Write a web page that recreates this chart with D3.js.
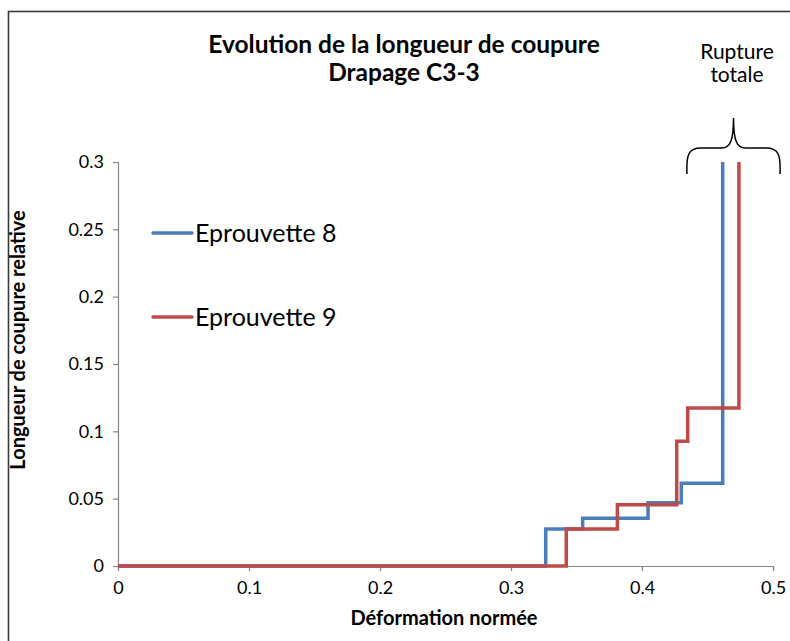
<!DOCTYPE html>
<html><head><meta charset="utf-8">
<script src="https://cdn.jsdelivr.net/npm/d3@7"></script>
<style>
html,body{margin:0;padding:0;background:#fff;}
text{font-family:Lato, "Open Sans", sans-serif;fill:#000;}
</style></head>
<body>
<svg id="c" width="790" height="641"></svg>
<script>
const seriesNames = ["Eprouvette 8", "Eprouvette 9"];
const seriesColors = ["#4a7ebb", "#be4b48"];
const blueX = [0, 0.3265, 0.3547, 0.4046, 0.4300, 0.4616];
const blueY = [0, 0.0275, 0.0354, 0.0470, 0.0614, 0.3];
const redX  = [0, 0.3422, 0.3812, 0.4265, 0.4349, 0.4740];
const redY  = [0, 0.0275, 0.0455, 0.0926, 0.1173, 0.3];
const xTicks = [0, 0.1, 0.2, 0.3, 0.4, 0.5];
const yTicks = [0, 0.05, 0.1, 0.15, 0.2, 0.25, 0.3];
const titleLines = ["Evolution de la longueur de coupure", "Drapage C3-3"];
const xLabel = "Déformation normée";
const yLabel = "Longueur de coupure relative";
const noteLines = ["Rupture", "totale"];

const FONT = "Lato, 'Open Sans', sans-serif";
const svg = d3.select("#c");
svg.append("rect").attr("x", 8.5).attr("y", 11.5).attr("width", 800).attr("height", 700)
  .attr("fill", "#fff").attr("stroke", "#3a3a3a").attr("stroke-width", 1.6);

const x = d3.scaleLinear().domain([0, 0.5]).range([118, 773]);
const y = d3.scaleLinear().domain([0, 0.3]).range([566, 162]);

const fmt = d => String(+d.toFixed(2));
const xAxis = d3.axisBottom(x).tickValues(xTicks).tickFormat(fmt).tickSizeOuter(0).tickSize(5).tickPadding(10);
const yAxis = d3.axisLeft(y).tickValues(yTicks).tickFormat(fmt).tickSizeOuter(0).tickSize(5).tickPadding(9);
const gx = svg.append("g").attr("transform", `translate(0,${y(0)})`).call(xAxis);
const gy = svg.append("g").attr("transform", `translate(${x(0)},0)`).call(yAxis);
[gx, gy].forEach(g => {
  g.attr("font-size", null).attr("font-family", null);
  g.select(".domain").attr("stroke", "#868686").attr("stroke-width", 1.2);
  g.selectAll(".tick line").attr("stroke", "#868686").attr("stroke-width", 1.2);
  g.selectAll(".tick text").attr("fill", "#000")
    .style("font-size", "18px").style("font-family", FONT);
});

const line = d3.line().x(d => x(d[0])).y(d => y(d[1])).curve(d3.curveStepAfter);
const data = [d3.zip(blueX, blueY), d3.zip(redX, redY)];
data.forEach((pts, i) => {
  svg.append("path").datum(pts).attr("d", line).attr("fill", "none")
    .attr("stroke", seriesColors[i]).attr("stroke-width", 3.5);
});

const legY = [233, 317];
seriesNames.forEach((n, i) => {
  svg.append("line").attr("x1", 153).attr("x2", 192).attr("y1", legY[i]).attr("y2", legY[i])
    .attr("stroke", seriesColors[i]).attr("stroke-width", 3.5).attr("stroke-linecap", "round");
  svg.append("text").attr("x", 195).attr("y", legY[i] + 9).style("font-size", "25px").text(n);
});

titleLines.forEach((t, i) => {
  svg.append("text").attr("x", 404).attr("y", 53 + i * 28).attr("text-anchor", "middle")
    .style("font-size", "24.5px").attr("font-weight", "bold").text(t);
});

svg.append("text").attr("x", 444).attr("y", 625).attr("text-anchor", "middle")
  .style("font-size", "20px").attr("font-weight", "bold").text(xLabel);
svg.append("text").attr("transform", "translate(25,340) rotate(-90)").attr("text-anchor", "middle")
  .style("font-size", "20px").attr("font-weight", "bold").text(yLabel);

noteLines.forEach((t, i) => {
  svg.append("text").attr("x", 737).attr("y", 59 + i * 23).attr("text-anchor", "middle")
    .style("font-size", "21px").text(t);
});
const bx0 = 687, bx1 = 780, bm = 733.5, byEnd = 174, byMid = 148, byTip = 118;
const brace = d3.path();
brace.moveTo(bx0, byEnd);
brace.bezierCurveTo(bx0 - 1, byMid + 6, bx0 + 2, byMid, bx0 + 14, byMid);
brace.lineTo(bm - 12, byMid);
brace.bezierCurveTo(bm - 3, byMid, bm, byMid - 8, bm, byTip);
brace.bezierCurveTo(bm, byMid - 8, bm + 3, byMid, bm + 12, byMid);
brace.lineTo(bx1 - 14, byMid);
brace.bezierCurveTo(bx1 - 2, byMid, bx1 + 1, byMid + 6, bx1, byEnd);
svg.append("path").attr("d", brace.toString()).attr("fill", "none")
  .attr("stroke", "#000").attr("stroke-width", 1.5);
</script>
</body></html>
